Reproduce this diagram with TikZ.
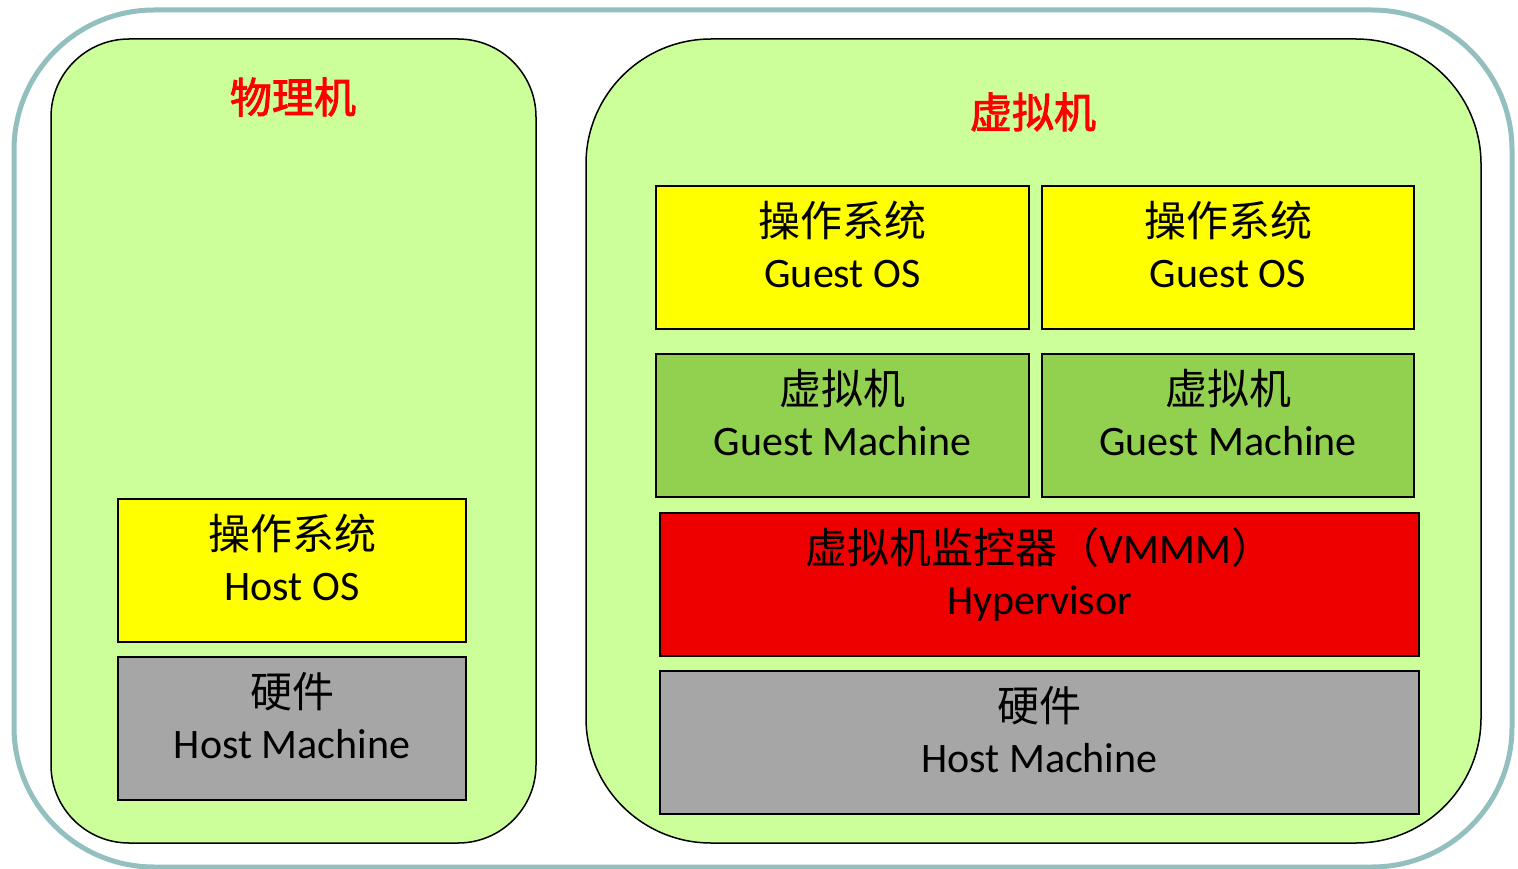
\documentclass[tikz,border=0pt]{standalone}
\usepackage{fontspec}
\setmainfont{Carlito}
\newfontfamily\cjk{Noto Sans CJK SC}
\newfontfamily\cjkb[FakeBold=2.2]{Noto Sans CJK SC}
\definecolor{framecol}{HTML}{93BFBF}
\definecolor{panelgreen}{HTML}{CCFF99}
\definecolor{osyellow}{HTML}{FFFF00}
\definecolor{gmgreen}{HTML}{92D050}
\definecolor{hypred}{HTML}{EE0000}
\definecolor{hwgray}{HTML}{A6A6A6}
\definecolor{titlered}{HTML}{FF0000}
\tikzset{
  panel/.style={draw=black, line width=1.5pt, fill=panelgreen, minimum height=804pt, inner sep=0pt},
  layer/.style={draw=black, line width=1.5pt, minimum height=143pt, inner sep=0pt},
  txt/.style={font=\fontsize{42}{51}\selectfont, align=center, inner sep=0pt},
  ttl/.style={font=\fontsize{42}{51}\selectfont\cjkb, text=titlered, inner sep=0pt}
}
\newcommand{\two}[2]{{\cjk #1}\\#2\vphantom{y}}
\begin{document}
\begin{tikzpicture}[x=1pt,y=-1pt]
\useasboundingbox (0,0) rectangle (1518,869);
\fill[white] (0,0) rectangle (1518,869);
\draw[draw=framecol, line width=5pt, rounded corners=140pt] (14,10) rectangle (1512,867);
% panels
\node[panel, minimum width=485pt, rounded corners=78pt] (phys) at (293.5,441) {};
\node[panel, minimum width=895pt, rounded corners=125pt] (virt) at (1033.5,441) {};
\node[ttl] (physt) at (293,97) {物理机};
\node[ttl] (virtt) at (1033,112) {虚拟机};
% left stack
\node[layer, fill=osyellow, minimum width=348pt] (hos) at (292,570.5) {};
\node[layer, fill=hwgray, minimum width=348pt] (hm1) at (292,728.5) {};
% right stack
\node[layer, fill=osyellow, minimum width=373pt] (gos1) at (842.5,257.5) {};
\node[layer, fill=osyellow, minimum width=372pt] (gos2) at (1228,257.5) {};
\node[layer, fill=gmgreen, minimum width=373pt] (gm1) at (842.5,425.5) {};
\node[layer, fill=gmgreen, minimum width=372pt] (gm2) at (1228,425.5) {};
\node[layer, fill=hypred, minimum width=759pt] (hyp) at (1039.5,584.5) {};
\node[layer, fill=hwgray, minimum width=759pt] (hm2) at (1039.5,742.5) {};
% texts
\node[txt] (host) at ([yshift=10pt]hos.center) {\two{操作系统}{Host OS}};
\node[txt] (hm1t) at ([yshift=10pt]hm1.center) {\two{硬件}{Host Machine}};
\node[txt] (gos1t) at ([yshift=10pt]gos1.center) {\two{操作系统}{Guest OS}};
\node[txt] (gos2t) at ([yshift=10pt]gos2.center) {\two{操作系统}{Guest OS}};
\node[txt] (gm1t) at ([yshift=10pt]gm1.center) {\two{虚拟机}{Guest Machine}};
\node[txt] (gm2t) at ([yshift=10pt]gm2.center) {\two{虚拟机}{Guest Machine}};
\node[txt] (hypt) at ([yshift=10pt]hyp.center) {{\cjk 虚拟机监控器（}VMMM{\cjk ）}\\Hypervisor\vphantom{y}};
\node[txt] (hm2t) at ([yshift=10pt]hm2.center) {\two{硬件}{Host Machine}};
\end{tikzpicture}
\end{document}
